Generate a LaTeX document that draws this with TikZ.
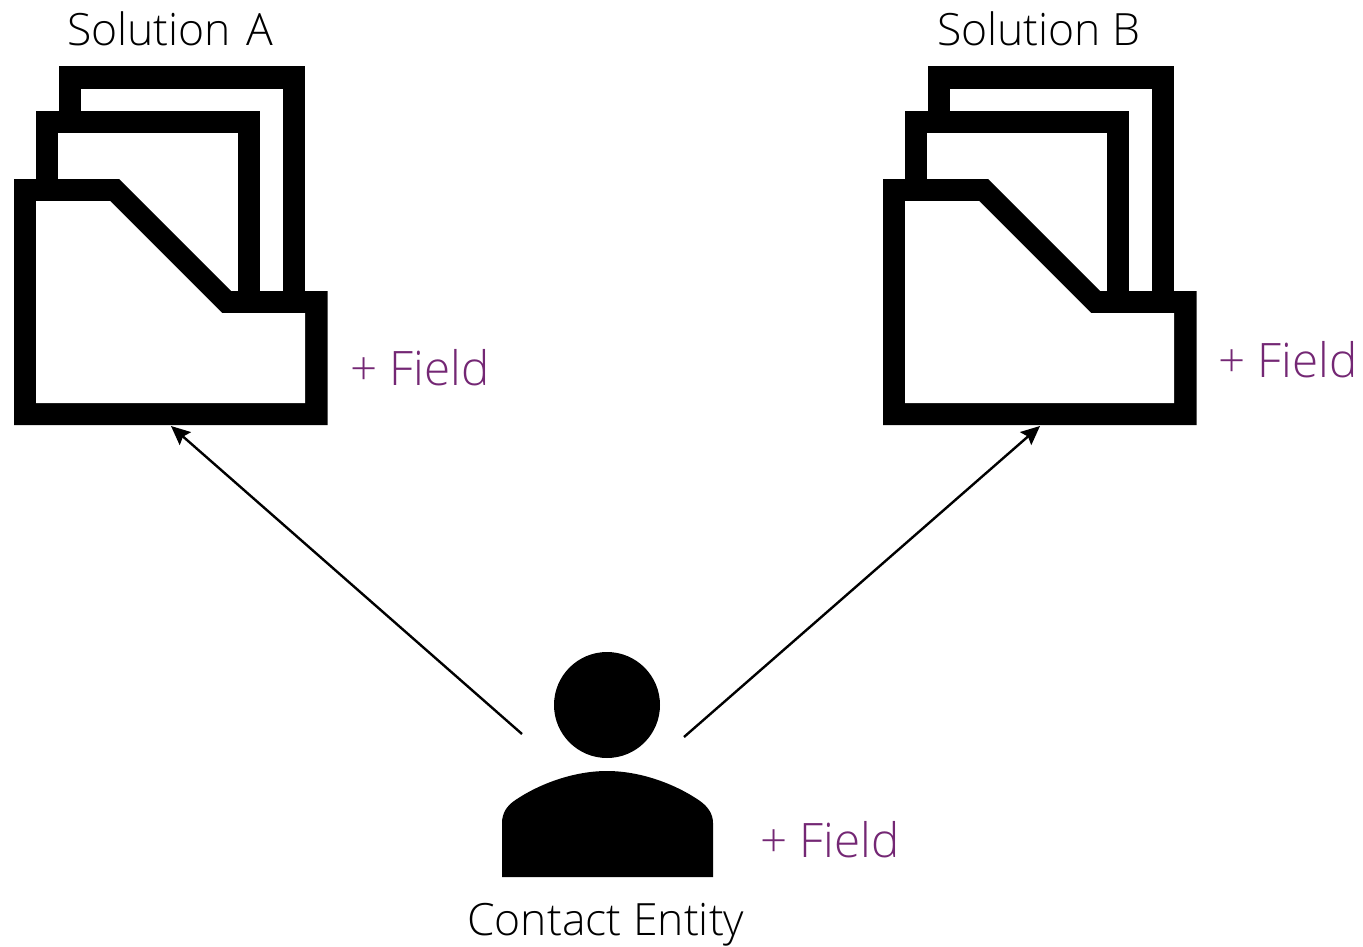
\documentclass[tikz,border=0pt]{standalone}
\usepackage{fontspec}
\setmainfont{Open Sans Light}
\usetikzlibrary{arrows.meta}
\definecolor{fieldpurple}{HTML}{742774}
\tikzset{
  title/.style={anchor=base west,inner sep=0pt,font=\fontsize{44.5}{50}\selectfont,text=black},
  fieldlabel/.style={anchor=base west,inner sep=0pt,font=\fontsize{47.5}{52}\selectfont,text=fieldpurple},
  link/.style={draw=black,line width=2.4pt,-{Stealth[length=19pt,width=17pt,inset=3pt]}},
  tray/.pic={
    \fill[black] (59,66) rectangle (305,300);
    \fill[white] (81,89) rectangle (283,300);
    \fill[black] (36,111) rectangle (260,300);
    \fill[white] (58,133) rectangle (238,300);
    \fill[black] (14,179) -- (119,179) -- (231,291) -- (327.5,291) -- (327.5,425) -- (14,425) -- cycle;
    \fill[white] (36,201) -- (110,201) -- (222,313) -- (305,313) -- (305,403) -- (36,403) -- cycle;
  }
}
\begin{document}
\begin{tikzpicture}[x=1pt,y=-1pt]
\useasboundingbox[fill=white] (0,0) rectangle (1363,947);
\pic at (0,0) {tray};
\pic at (869,0) {tray};
\fill[black] (607,705) circle (53pt);
\fill[black] (502,877) -- (502,823) .. controls (502,813) and (507,806) .. (514,801)
  .. controls (540,783) and (575,771) .. (607,771)
  .. controls (639,771) and (674,783) .. (700,801)
  .. controls (707,806) and (713,813) .. (713,823) -- (713,877) -- cycle;
\node[title] (solA) at (67,46) {Solution\hspace{4pt} A};
\node[title] (solB) at (937,46) {Solution B};
\node[title] (contact) at (467,935) {Contact Entity};
\node[fieldlabel] (fieldA) at (350,385) {+ Field};
\node[fieldlabel] (fieldB) at (1218,377) {+ Field};
\node[fieldlabel] (fieldC) at (760,857) {+ Field};
\coordinate (trayA) at (171,426);
\coordinate (trayB) at (1040,426);
\coordinate (personL) at (522,734);
\coordinate (personR) at (684,737);
\draw[link] (personL) -- (trayA);
\draw[link] (personR) -- (trayB);
\end{tikzpicture}
\end{document}
